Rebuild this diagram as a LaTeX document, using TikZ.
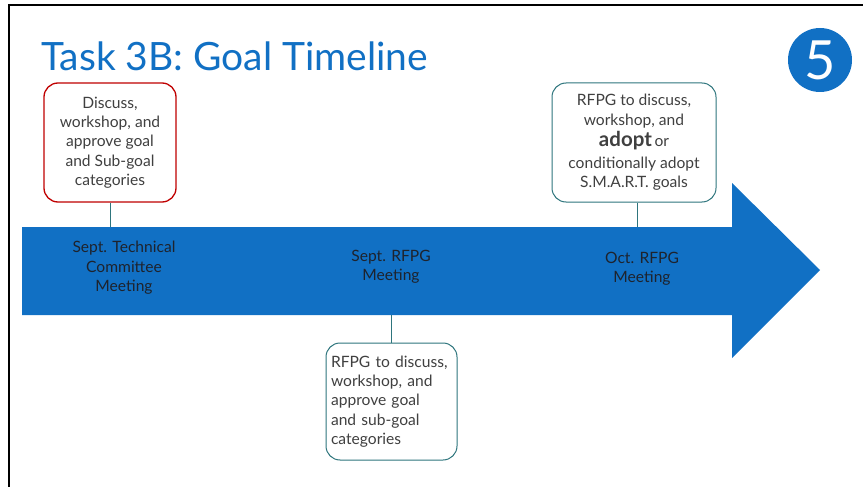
\documentclass[tikz,border=0pt]{standalone}
\usepackage{fontspec}
\setmainfont{Lato}
\definecolor{tblue}{RGB}{17,112,196}
\definecolor{tred}{RGB}{192,0,0}
\definecolor{tteal}{RGB}{46,117,125}
\definecolor{ttext}{RGB}{64,64,64}
\definecolor{tdark}{RGB}{30,35,45}
\tikzset{
  box/.style={draw, line width=1pt, rounded corners=14pt, fill=white, text=ttext,
    font=\fontsize{15.6}{19.3}\selectfont, inner sep=0pt},
  redbox/.style={box, draw=tred, line width=1.3pt},
  tealbox/.style={box, draw=tteal},
  lbl/.style={text=tdark, font=\fontsize{15.6}{19.5}\selectfont, align=center, inner sep=0pt},
  conn/.style={draw=tteal, line width=1pt},
}
\begin{document}
\begin{tikzpicture}[x=1pt,y=-1pt]
\useasboundingbox (0,0) rectangle (863,487);
% frame
\draw[line width=2.5pt, black] (9,487) -- (9,5) -- (863,5);
% title
\node[anchor=base west, text=tblue, font=\fontsize{39}{42}\selectfont, inner sep=0pt] (title) at (41,71) {Task 3B: Goal Timeline};
% number badge
\node[circle, fill=tblue, minimum size=64pt, inner sep=0pt, text=white, font=\fontsize{54}{54}\selectfont] (num) at (820,60) {5};
% timeline arrow
\fill[tblue] (22,227) -- (732,227) -- (732,183) -- (820,270) -- (732,358) -- (732,315) -- (22,315) -- cycle;
\coordinate (s1) at (110,227);
\coordinate (s2) at (391,315);
\coordinate (s3) at (637,227);
% labels on arrow
\node[lbl] (m1) at (124,268) {Sept. Technical\\Committee\\Meeting};
\node[lbl] (m2) at (391,267) {Sept. RFPG\\Meeting};
\node[lbl] (m3) at (642,269) {Oct. RFPG\\Meeting};
% boxes
\node[redbox, minimum width=132pt, minimum height=119pt, align=center] (b1) at (110,142.5)
  {Discuss,\\workshop, and\\approve goal\\and Sub-goal\\categories};
\node[tealbox, minimum width=164pt, minimum height=119pt, align=center] (b3) at (634,142.5)
  {RFPG to discuss,\\workshop, and\\[2pt]{\fontsize{20.5}{23}\selectfont\bfseries adopt}\,or\\[3pt]conditionally adopt\\S.M.A.R.T. goals};
\node[tealbox, minimum width=131pt, minimum height=117pt, text width=121pt, align=left] (b2) at (391.5,401.5)
  {RFPG to discuss,\\workshop, and\\approve goal\\and sub-goal\\categories};
% connectors
\draw[conn] (b1.south) -- (s1);
\draw[conn] (b3.south -| s3) -- (s3);
\draw[conn] (s2) -- (b2.north -| s2);
\end{tikzpicture}
\end{document}
